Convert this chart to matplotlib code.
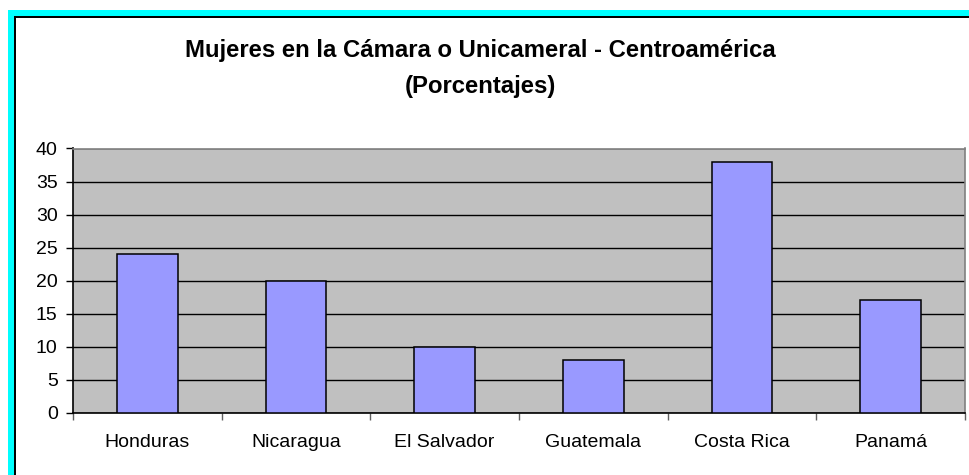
import matplotlib
matplotlib.use('Agg')
import matplotlib.pyplot as plt
from matplotlib.patches import Rectangle
import numpy as np

# data
paises = ['Honduras', 'Nicaragua', 'El Salvador', 'Guatemala', 'Costa Rica', 'Panamá']
porcentajes = [24, 20, 10, 8, 38, 17]
titulo1 = 'Mujeres en la Cámara o Unicameral - Centroamérica'
titulo2 = '(Porcentajes)'

plt.rcParams['font.family'] = ['Liberation Sans', 'DejaVu Sans']

W, H = 970, 475
fig = plt.figure(figsize=(W / 100, H / 100), dpi=100, facecolor='white')

def px_rect(x0, y0, x1, y1, color):
    # pixel coords, origin at top-left
    fig.patches.append(Rectangle((x0 / W, 1 - y1 / H), (x1 - x0) / W, (y1 - y0) / H,
                                 transform=fig.transFigure, facecolor=color,
                                 edgecolor='none', zorder=-10))

# cyan frame (cut off at the right and bottom)
px_rect(8, 10, W + 10, H + 10, '#00FFFF')
px_rect(14, 16, W + 10, H + 10, '#000000')
px_rect(16, 18, W + 10, H + 10, '#FFFFFF')

fig.text(480 / W, 1 - 50 / H, titulo1, ha='center', va='center',
         fontsize=17.2, fontweight='bold')
fig.text(480 / W, 1 - 87 / H, titulo2, ha='center', va='center',
         fontsize=17.2, fontweight='bold')

ax = fig.add_axes([73 / W, 1 - 412.7 / H, 892 / W, 264.2 / H])
ax.set_facecolor('#C0C0C0')

x = np.arange(len(paises))
ax.bar(x, porcentajes, width=0.41, color='#9999FF', edgecolor='black',
       linewidth=1.1, zorder=3)

ax.set_xlim(-0.5, len(paises) - 0.5)
ax.set_ylim(0, 40)
ax.set_yticks(np.arange(0, 41, 5))
ax.yaxis.grid(True, color='black', linewidth=1, zorder=1)
ax.set_axisbelow(True)

ax.set_xticks(x)
ax.set_xticklabels(paises)
ax.set_xticks(np.arange(-0.5, len(paises)), minor=True)
ax.tick_params(axis='x', which='major', length=0, pad=15, labelsize=14)
ax.tick_params(axis='x', which='minor', length=5, width=1, color='#606060', direction='out')
ax.tick_params(axis='y', length=5, width=1, color='black', direction='out',
               pad=6, labelsize=14)

ax.spines['left'].set_color('black')
ax.spines['bottom'].set_color('black')
ax.spines['top'].set_color('#808080')
ax.spines['right'].set_color('#808080')
for s in ax.spines.values():
    s.set_linewidth(1.2)

fig.savefig('out.png', dpi=100, facecolor='white')
